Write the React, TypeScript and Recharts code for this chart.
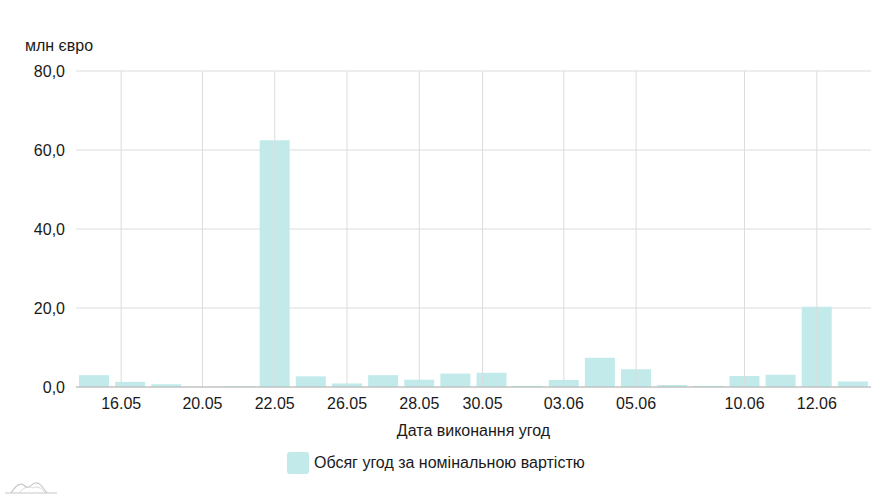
import React from 'react';
import { BarChart, Bar, XAxis, YAxis, CartesianGrid, Legend, ReferenceLine } from 'recharts';

// торгові дні (категорії)
const dates = [
  '15.05', '16.05', '17.05', '20.05', '21.05', '22.05', '23.05', '24.05',
  '27.05', '28.05', '29.05', '30.05', '31.05', '03.06', '04.06', '05.06',
  '06.06', '07.06', '10.06', '11.06', '12.06', '13.06',
];

// обсяг угод, млн євро
const volumes = [
  3.0, 1.3, 0.7, 0, 0.2, 62.5, 2.7, 0.9,
  3.0, 1.85, 3.4, 3.6, 0.3, 1.8, 7.4, 4.5,
  0.5, 0.3, 2.8, 3.1, 20.3, 1.4,
];

// підписи осі X та їх положення (у одиницях індексу дня)
const tickPositions = [0.75, 3, 5, 7, 9, 10.75, 13, 15, 18, 20];
const tickLabels = ['16.05', '20.05', '22.05', '26.05', '28.05', '30.05', '03.06', '05.06', '10.06', '12.06'];

const yTicks = [0, 20, 40, 60, 80];

const seriesName = 'Обсяг угод за номінальною вартістю';
const barColor = '#c2eaea';
const gridColor = '#dcdcdc';
const FONT = '"Liberation Sans", Arial, sans-serif';
const TEXT = '#1a1a1a';

const data = dates.map((d, i) => ({ idx: i, date: d, value: volumes[i] }));

const LegendContent = () => (
  <div style={{ display: 'flex', alignItems: 'center', fontFamily: FONT, fontSize: 16, color: TEXT }}>
    <span
      style={{
        display: 'inline-block',
        width: 22,
        height: 22,
        borderRadius: 3,
        background: barColor,
        marginRight: 5,
      }}
    />
    <span>{seriesName}</span>
  </div>
);

export default function App() {
  return (
    <div style={{ position: 'absolute', left: 0, top: 0, width: 891, height: 500, fontFamily: FONT }}>
      <div style={{ position: 'absolute', left: 25, top: 37, fontSize: 16, color: TEXT }}>млн євро</div>
      <BarChart
        width={891}
        height={500}
        data={data}
        margin={{ top: 71, right: 20, left: 0, bottom: 26 }}
      >
        <CartesianGrid stroke={gridColor} vertical={false} />
        {tickPositions.map((t) => (
          <ReferenceLine key={t} x={t} stroke={gridColor} />
        ))}
        <XAxis
          type="number"
          dataKey="idx"
          domain={[-0.5, 21.5]}
          ticks={tickPositions}
          interval={0}
          tickFormatter={(v: number) => tickLabels[tickPositions.indexOf(v)] ?? ''}
          tickLine={false}
          tickSize={0}
          tickMargin={11}
          axisLine={{ stroke: '#b5b5b5' }}
          tick={{ fontSize: 16, fill: TEXT, fontFamily: FONT }}
          height={65}
          label={{
            value: 'Дата виконання угод',
            position: 'insideBottom',
            offset: 16,
            style: { fontSize: 16, fill: TEXT, fontFamily: FONT },
          }}
        />
        <YAxis
          domain={[0, 80]}
          ticks={yTicks}
          width={76}
          axisLine={false}
          tickLine={false}
          tickSize={0}
          tickMargin={11}
          tickFormatter={(v: number) => v.toFixed(1).replace('.', ',')}
          tick={{ fontSize: 16, fill: TEXT, fontFamily: FONT }}
        />
        <Legend
          verticalAlign="bottom"
          align="center"
          content={<LegendContent />}
          wrapperStyle={{ left: 287, bottom: 26 }}
        />
        <Bar dataKey="value" name={seriesName} fill={barColor} barSize={30} isAnimationActive={false} />
      </BarChart>
      <svg style={{ position: 'absolute', left: 5, top: 478 }} width={56} height={20}>
        <path d="M0 15 H52" stroke="#c8c8c8" strokeWidth={1.2} fill="none" />
        <path d="M6 15 C12 6, 16 4, 20 8 C24 12, 26 6, 30 5 C35 4, 38 10, 42 15" stroke="#c8c8c8" strokeWidth={1.2} fill="none" />
        <path d="M14 15 C20 8, 24 8, 28 10 C32 8, 36 9, 40 15" stroke="#d8d8d8" strokeWidth={1} fill="none" />
      </svg>
    </div>
  );
}
